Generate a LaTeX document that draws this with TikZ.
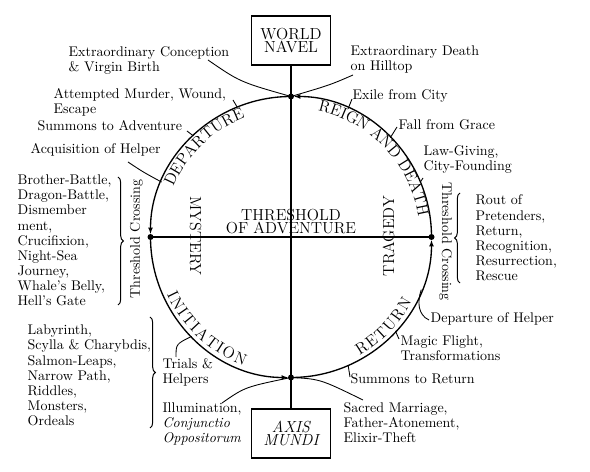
\documentclass[tikz,border=0pt]{standalone}
\usepackage{fontspec}
\usetikzlibrary{arrows.meta,calc,decorations.text,decorations.pathreplacing}

\newcommand\lblfont{\fontsize{10.5}{11.4}\selectfont}
\newcommand\capfont{\fontsize{12}{9.8}\selectfont}

\begin{document}
\begin{tikzpicture}[x=0.75pt,y=0.75pt,line width=1pt,
  lbl/.style={font=\lblfont,align=left,anchor=base west,inner sep=0pt},
  vert/.style={font=\lblfont,inner sep=0pt},
  bigcap/.style={font=\capfont\addfontfeature{LetterSpace=14},inner sep=0pt},
  axisbox/.style={draw,line width=1.2pt,minimum width=59pt,minimum height=37pt,
    align=center,font=\capfont,inner sep=2pt},
  arcline/.style={-{Latex[length=5pt,width=3.6pt]},shorten >=2pt},
  dot/.style={circle,fill,inner sep=0pt,minimum size=4.5pt},
  lead/.style={line width=0.65pt},
  brc/.style={decorate,decoration={brace,amplitude=4pt},line width=0.75pt},
  arctext/.style={decorate,decoration={text along path,
    text align={fit to path},text={|\capfont|#1}}}]
  \useasboundingbox (0,0) rectangle (590,472);
  \def\R{140.5}
  % the round
  \coordinate (O) at (291,235);
  \coordinate (top) at (291,375.5);
  \coordinate (lft) at (150.5,235);
  \coordinate (bot) at (291,94.5);
  \coordinate (rgt) at (431.5,235);
  \node[axisbox] (navel) at (291,431.5) {WORLD\\NAVEL};
  \node[axisbox,font=\capfont\itshape] (mundi) at (291,38.5) {AXIS\\MUNDI};
  \draw (navel.south) -- (mundi.north);
  \draw (lft) -- (rgt);
  \draw[arcline] (top) arc[start angle=90,end angle=180,radius=\R];
  \draw[arcline] (lft) arc[start angle=180,end angle=270,radius=\R];
  \draw[arcline] (bot) arc[start angle=270,end angle=360,radius=\R];
  \draw[arcline] (rgt) arc[start angle=0,end angle=90,radius=\R];
  \node[dot] (dtop) at (top) {};
  \node[dot] (dlft) at (lft) {};
  \node[dot] (dbot) at (bot) {};
  \node[dot] (drgt) at (rgt) {};
  % words on the round
  \path[arctext=DEPARTURE] ($(O)+(157:128)$) arc[start angle=157,end angle=111,radius=128];
  \path[arctext=REIGN AND DEATH] ($(O)+(78:129)$) arc[start angle=78,end angle=10,radius=129];
  \path[arctext=INITIATION] ($(O)+(205:137)$) arc[start angle=205,end angle=250,radius=137];
  \path[arctext=RETURN] ($(O)+(300:137)$) arc[start angle=300,end angle=332,radius=137];
  \node[bigcap,rotate=-90] (myst) at (195.5,236) {MYSTERY};
  \node[bigcap,rotate=90] (trag) at (388.5,236) {TRAGEDY};
  \node[font=\capfont,align=center,anchor=south,inner sep=0pt] (thr) at (291,237)
    {THRESHOLD\\OF ADVENTURE};
  \node[vert,rotate=90] (tcl) at (136.5,233) {Threshold Crossing};
  \node[vert,rotate=-90] (tcr) at (445.5,230.5) {Threshold Crossing};
  % points on the round
  \coordinate (cMur) at ($(O)+(112.5:\R)$);
  \coordinate (cSum) at ($(O)+(134:\R)$);
  \coordinate (cAcq) at ($(O)+(157:\R)$);
  \coordinate (cTri) at ($(O)+(225:\R)$);
  \coordinate (cSR)  at ($(O)+(-66:\R)$);
  \coordinate (cMag) at ($(O)+(-42:\R)$);
  \coordinate (cDep) at ($(O)+(-22:\R)$);
  \coordinate (cLaw) at ($(O)+(23:\R)$);
  \coordinate (cFal) at ($(O)+(45:\R)$);
  \coordinate (cExi) at ($(O)+(66:\R)$);
  % left side (multi-line labels sit on their last line)
  \node[lbl] (conc) at (68,400) {Extraordinary Conception\\\& Virgin Birth};
  \node[lbl] (mur) at (53,358) {Attempted Murder, Wound,\\Escape};
  \node[lbl] (sum) at (37,341) {Summons to Adventure};
  \node[lbl] (acq) at (30,318) {Acquisition of Helper};
  \node[lbl] (battle) at (17,166) {Brother-Battle,\\Dragon-Battle,\\Dismember\\ment,\\
    Crucifixion,\\Night-Sea\\Journey,\\Whale's Belly,\\Hell's Gate};
  \node[lbl] (laby) at (27,46) {Labyrinth,\\Scylla \& Charybdis,\\Salmon-Leaps,\\
    Narrow Path,\\Riddles,\\Monsters,\\Ordeals};
  \node[lbl] (tri) at (162,88) {Trials \&\\Helpers};
  \node[lbl] (ill) at (162,29) {Illumination,\\\textit{Conjunctio}\\\textit{Oppositorum}};
  \coordinate (concT) at (208,412);
  \coordinate (murT) at (233,372);
  \coordinate (sumT) at (187,341);
  \coordinate (acqT) at (128,310);
  \coordinate (triT) at (176,115);
  \coordinate (illT) at (222,69);
  \draw[lead] (concT) .. controls (240,390) .. (top);
  \draw[lead] (murT) -- (cMur);
  \draw[lead] (sumT) -- (cSum);
  \draw[lead] (acqT) .. controls (143,300) .. (cAcq);
  \draw[lead] (cTri) .. controls (176,128) .. (triT);
  \draw[lead] (illT) .. controls (245,85) .. (bot);
  \draw[brc] (118,295) -- (118,167);
  \draw[brc] (150,155) -- (150,44);
  % right side
  \node[lbl] (death) at (350,401) {Extraordinary Death\\on Hilltop};
  \node[lbl] (exi) at (352,372) {Exile from City};
  \node[lbl] (fal) at (398,342) {Fall from Grace};
  \node[lbl] (law) at (423,301) {Law-Giving,\\City-Founding};
  \node[lbl] (rout) at (475,191) {Rout of\\Pretenders,\\Return,\\Recognition,\\
    Resurrection,\\Rescue};
  \node[lbl] (dep) at (430,149) {Departure of Helper};
  \node[lbl] (mag) at (400,111) {Magic Flight,\\Transformations};
  \node[lbl] (sr) at (350,89) {Summons to Return};
  \node[lbl] (sac) at (343,29) {Sacred Marriage,\\Father-Atonement,\\Elixir-Theft};
  \coordinate (deathT) at (353,397);
  \coordinate (exiT) at (352,373);
  \coordinate (falT) at (397,345);
  \coordinate (lawT) at (423,294);
  \coordinate (depT) at (429,152);
  \coordinate (magT) at (399,133);
  \coordinate (srT) at (350,95);
  \coordinate (sacT) at (363,72);
  \draw[lead] (deathT) .. controls (330,387) .. (top);
  \draw[lead] (exiT) -- (cExi);
  \draw[lead] (falT) -- (cFal);
  \draw[lead] (lawT) -- (cLaw);
  \draw[lead] (cDep) .. controls (417,170) and (418,157) .. (depT);
  \draw[lead] (magT) -- (cMag);
  \draw[lead] (srT) -- (cSR);
  \draw[lead] (bot) .. controls (320,93) .. (sacT);
  \draw[brc] (460,189) -- (460,279);
\end{tikzpicture}
\end{document}
